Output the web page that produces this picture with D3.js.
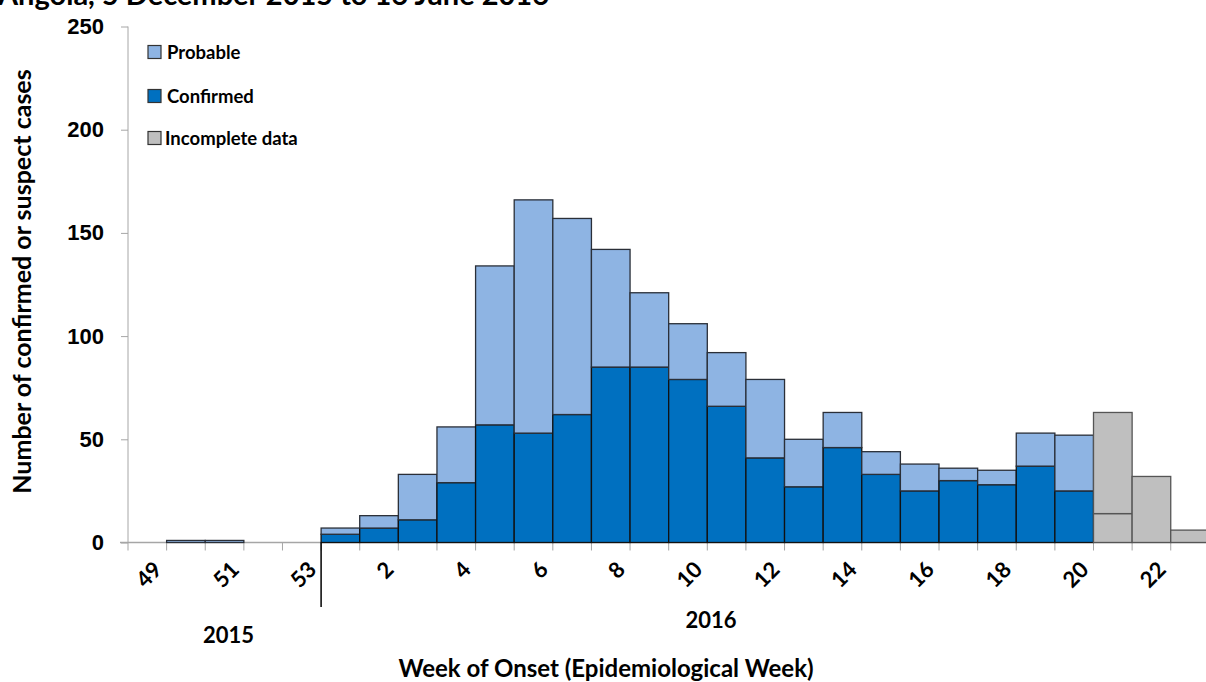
<!DOCTYPE html>
<html lang="en">
<head>
<meta charset="UTF-8">
<title>Weekly cases</title>
<style>
    body { margin: 0; background: #fff; }
    svg { display: block; font-family: Lato, "Open Sans", sans-serif; font-weight: bold; }
    .tick-label { font-size: 22px; fill: #000; }
</style>
</head>
<body>
<script src="https://d3js.org/d3.v7.min.js"></script>
<script>
    // categories: epi weeks, end of 2015 then 2016
    const weeks = ['49','50','51','52','53','1','2','3','4','5','6','7','8','9','10','11','12','13','14','15','16','17','18','19','20','21','22','23']
    const confirmed = [0,0,0,0,0, 4,7,11,29,57,53,62,85,85,79,66,41,27,46,33,25,30,28,37,25, 14,0,0]
    const probable  = [0,1,1,0,0, 3,6,22,27,77,113,95,57,36,27,26,38,23,17,11,13,6,7,16,27, 49,32,6]
    const incompleteWeeks = ['21','22','23']
    const yTicks = [0,50,100,150,200,250]
    const xLabelWeeks = ['49','51','53','2','4','6','8','10','12','14','16','18','20','22']

    const width = 1206, height = 682
    const svg = d3.select('body').append('svg')
        .attr('width', width)
        .attr('height', height)

    const x = d3.scaleBand()
        .domain(weeks)
        .range([128, 128 + weeks.length * 38.62])
        .padding(0)
    const y = d3.scaleLinear()
        .domain([0, 250])
        .range([542.5, 26.5])

    // title, mostly cut off at the top
    svg.append('text')
        .attr('x', -2)
        .attr('y', 5)
        .style('font-size', '29px')
        .text('Angola, 5 December 2015 to 16 June 2016')

    // y axis
    const yAxis = svg.append('g').attr('transform', 'translate(128,0)')
        .call(d3.axisLeft(y).tickValues(yTicks).tickSize(7).tickPadding(17))
    yAxis.select('.domain').attr('stroke', '#a6a6a6').attr('d', 'M0,' + y(250) + 'V' + y(0))
    yAxis.selectAll('.tick line').attr('stroke', '#a6a6a6')
    yAxis.selectAll('.tick text').attr('class', 'tick-label').attr('font-family', null).attr('font-size', null)

    // x axis line + boundary ticks
    svg.append('line')
        .attr('x1', 120).attr('x2', width)
        .attr('y1', y(0)).attr('y2', y(0))
        .attr('stroke', '#a6a6a6').attr('stroke-width', 1.3)
    svg.selectAll('.xtick')
        .data(weeks)
        .enter()
        .append('line')
        .attr('class', 'xtick')
        .attr('x1', d => x(d)).attr('x2', d => x(d))
        .attr('y1', y(0)).attr('y2', y(0) + 8)
        .attr('stroke', '#a6a6a6')

    // stacked bars
    const rows = weeks.map((w, i) => ({ week: w, c: confirmed[i], p: probable[i], inc: incompleteWeeks.includes(w) }))
    const bars = svg.selectAll('.bar')
        .data(rows)
        .enter()
        .append('g')
        .attr('class', 'bar')
    bars.filter(d => d.c > 0)
        .append('rect')
        .attr('x', d => x(d.week))
        .attr('width', x.bandwidth())
        .attr('y', d => y(d.c))
        .attr('height', d => y(0) - y(d.c))
        .attr('fill', d => d.inc ? '#bfbfbf' : '#0070c0')
        .attr('stroke', d => d.inc ? '#555' : '#111')
        .attr('stroke-width', 1.3)
    bars.filter(d => d.p > 0)
        .append('rect')
        .attr('x', d => x(d.week))
        .attr('width', x.bandwidth())
        .attr('y', d => y(d.c + d.p))
        .attr('height', d => y(d.c) - y(d.c + d.p))
        .attr('fill', d => d.inc ? '#bfbfbf' : '#8eb4e3')
        .attr('stroke', d => d.inc ? '#555' : '#2a2f38')
        .attr('stroke-width', 1.3)

    // year separator
    svg.append('line')
        .attr('x1', x('1')).attr('x2', x('1'))
        .attr('y1', y(0)).attr('y2', 607)
        .attr('stroke', '#000').attr('stroke-width', 1.5)

    // x labels, rotated
    svg.selectAll('.xlabel')
        .data(xLabelWeeks)
        .enter()
        .append('text')
        .attr('class', 'tick-label')
        .attr('text-anchor', 'end')
        .attr('transform', d => 'translate(' + (x(d) + x.bandwidth() / 2 + 5) + ',' + 560 + ') rotate(-45)')
        .attr('dy', '0.7em')
        .text(d => d)

    // year labels
    svg.append('text').attr('class', 'tick-label')
        .attr('x', (x('49') + x('1')) / 2 + 4).attr('y', 643)
        .attr('text-anchor', 'middle').text('2015')
    svg.append('text').attr('class', 'tick-label')
        .attr('x', 711).attr('y', 628)
        .attr('text-anchor', 'middle').text('2016')

    // axis titles
    svg.append('text')
        .attr('x', 606).attr('y', 677)
        .attr('text-anchor', 'middle')
        .style('font-size', '24px')
        .text('Week of Onset (Epidemiological Week)')
    svg.append('text')
        .attr('transform', 'translate(31,' + ((y(0) + y(250)) / 2 - 3) + ') rotate(-90)')
        .attr('text-anchor', 'middle')
        .style('font-size', '25px')
        .text('Number of confirmed or suspect cases')

    // legend
    const legendItems = ['Probable', 'Confirmed', 'Incomplete data']
    const legendColors = ['#8eb4e3', '#0070c0', '#bfbfbf']
    const legendY = [52, 96, 138]
    const lg = svg.selectAll('.legend')
        .data(legendItems)
        .enter()
        .append('g')
        .attr('class', 'legend')
        .attr('transform', (d, i) => 'translate(148,' + legendY[i] + ')')
    lg.append('rect')
        .attr('x', 0).attr('y', -6.5)
        .attr('width', 13).attr('height', 13)
        .attr('fill', (d, i) => legendColors[i])
        .attr('stroke', '#333').attr('stroke-width', 1.2)
    lg.append('text')
        .attr('x', (d, i) => i === 2 ? 17 : 19)
        .attr('dy', '0.36em')
        .style('font-size', '18.5px')
        .text(d => d)
</script>
</body>
</html>
